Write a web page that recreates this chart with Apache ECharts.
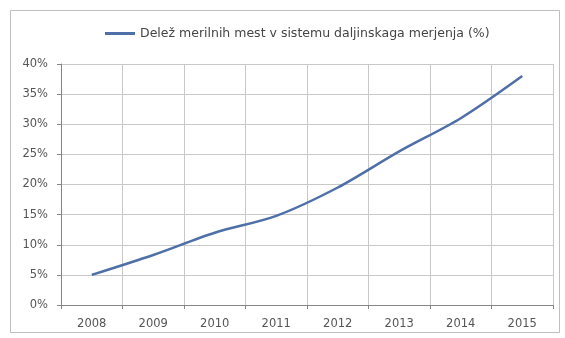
<!DOCTYPE html>
<html>
<head>
<meta charset="utf-8">
<script src="https://cdn.jsdelivr.net/npm/echarts@6/dist/echarts.min.js"></script>
<style>
  html, body { margin: 0; padding: 0; background: #fff; }
  #chart { width: 565px; height: 338px; }
</style>
</head>
<body>
<div id="chart"></div>
<script>
// Years on the horizontal axis
const years = ['2008', '2009', '2010', '2011', '2012', '2013', '2014', '2015'];
// Share of metering points in the remote metering system, in percent
const sharePct = [5.0, 8.3, 12.0, 14.8, 19.5, 25.5, 31.0, 38.0];
// Vertical axis range and step, in percent
const yMin = 0;
const yMax = 40;
const yStep = 5;
const seriesName = 'Delež merilnih mest v sistemu daljinskaga merjenja (%)';

const chart = echarts.init(document.getElementById('chart'), null, { renderer: 'canvas' });

const labelFont = { fontFamily: 'DejaVu Sans, sans-serif', fontSize: 11.5, color: '#555555' };

chart.setOption({
  animation: false,
  backgroundColor: '#ffffff',
  graphic: [{
    type: 'rect',
    left: 8, top: 8,
    shape: { width: 549, height: 322 },
    style: { fill: 'none', stroke: '#bfbfbf', lineWidth: 1 },
    silent: true
  }],
  legend: {
    top: 22,
    left: 100,
    itemWidth: 30,
    itemHeight: 3,
    itemGap: 4,
    icon: 'rect',
    textStyle: { fontFamily: 'DejaVu Sans, sans-serif', fontSize: 12.5, color: '#454545' },
    data: [seriesName]
  },
  grid: { left: 61, right: 12, top: 64, bottom: 33, containLabel: false },
  xAxis: {
    type: 'category',
    data: years,
    boundaryGap: true,
    axisLine: { lineStyle: { color: '#868686' } },
    axisTick: { show: true, length: 4, lineStyle: { color: '#868686' } },
    splitLine: { show: true, lineStyle: { color: '#c8c8c8' } },
    axisLabel: Object.assign({ margin: 13 }, labelFont)
  },
  yAxis: {
    type: 'value',
    min: yMin, max: yMax, interval: yStep,
    axisLine: { show: true, lineStyle: { color: '#868686' } },
    axisTick: { show: true, length: 4, lineStyle: { color: '#868686' } },
    splitLine: { show: true, lineStyle: { color: '#c8c8c8' } },
    axisLabel: Object.assign({ margin: 13, formatter: v => v + '%' }, labelFont)
  },
  series: [{
    name: seriesName,
    type: 'line',
    data: sharePct,
    smooth: 0.3,
    showSymbol: false,
    symbol: 'none',
    lineStyle: { color: '#4f6fa8', width: 2.5 },
    itemStyle: { color: '#4f6fa8' }
  }]
});
</script>
</body>
</html>
